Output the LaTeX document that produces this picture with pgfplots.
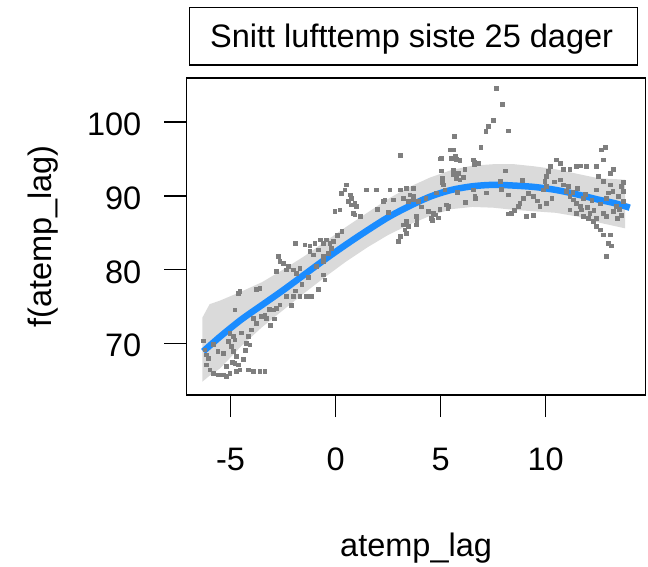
\documentclass[border=0pt]{standalone}
\usepackage{pgfplots}
\pgfplotsset{compat=1.18}
\usepackage{fontspec}
\setmainfont{Liberation Sans}
\definecolor{ptgray}{HTML}{7F7F7F}
\definecolor{bandgray}{HTML}{DADADA}
\definecolor{curveblue}{HTML}{1A8CFF}
\newcommand{\bigfont}{\fontsize{32.5}{39}\selectfont}
\begin{document}
\begin{tikzpicture}
\useasboundingbox (-186.5pt,-171pt) rectangle (461.5pt,395pt);
\begin{axis}[
  at={(0,0)}, anchor=south west,
  scale only axis, width=459.2pt, height=317pt,
  xmin=-7.10, xmax=14.76, ymin=62.98, ymax=106.0,
  xtick={-5,0,5,10}, ytick={70,80,90,100},
  xtick pos=bottom, ytick pos=left,
  tick align=outside, major tick length=22pt,
  axis line style={line width=1.5pt, black},
  every tick/.style={line width=1.5pt, black},
  /pgf/number format/assume math mode=true,
  ticklabel style={font=\bigfont, inner sep=0pt},
  xticklabel style={anchor=north, yshift=-31pt},
  yticklabel style={anchor=east, xshift=-23pt, yshift=-2.5pt},
  xlabel={atemp\_lag}, ylabel={f(atemp\_lag)},
  label style={font=\bigfont, inner sep=0pt},
  xlabel style={at={(axis description cs:0.5,0)}, anchor=base, yshift=-161.7pt},
  ylabel style={at={(axis description cs:0,0.5)}, anchor=center, rotate=0, yshift=143pt},
]
% confidence band (upper left to right, lower right to left)
\addplot[fill=bandgray, draw=none] coordinates {
(-6.34,73.5) (-6.0,75.3) (-5.5,75.8) (-4.5,77.0) (-3.5,78.3) (-2.5,80.0)
(-1.5,81.8) (-0.5,83.8) (0.5,85.8) (1.5,87.7) (2.5,89.6) (3.5,91.2)
(4.5,92.5) (5.5,93.5) (6.5,94.1) (7.5,94.3) (8.5,94.3) (9.5,94.0)
(10.5,93.6) (11.5,93.0) (12.5,92.4) (13.78,92.2)
(13.78,85.6) (12.5,86.4) (11.5,87.2) (10.5,87.7) (9.5,87.9) (8.5,88.1)
(7.5,88.4) (6.5,88.5) (5.5,88.2) (4.5,87.3) (3.5,86.1) (2.5,84.7)
(1.5,83.0) (0.5,81.1) (-0.5,79.0) (-1.5,76.8) (-2.5,74.5) (-3.5,72.2)
(-4.5,69.6) (-5.5,66.6) (-6.0,65.6) (-6.34,64.8)
};
% partial residuals
\addplot[ptgray, only marks, mark=square*, mark size=1.9pt, mark options={draw=ptgray, fill=ptgray, line width=0pt}] coordinates {
(7.67,104.61) (7.96,102.44) (7.51,100.22) (7.27,99.41) (7.16,98.73) (8.22,98.82)
(5.64,98.05) (6.92,96.56) (5.61,96.24) (5.45,96.24) (3.10,95.52) (5.05,95.11)
(5.53,95.11) (5.76,94.97) (5.92,94.79) (6.56,94.88) (6.80,94.43) (6.16,93.62)
(5.05,93.39) (8.07,93.39) (5.61,92.85) (5.76,92.39) (5.92,92.17) (7.83,91.94)
(6.56,90.81) (6.64,89.68) (8.22,90.13) (5.13,91.49) (5.21,90.81) (5.29,88.77)
(5.37,88.55) (4.97,88.19) (4.65,87.64) (4.57,86.96) (4.42,87.87) (3.07,90.81)
(3.38,91.04) (3.70,91.04) (3.54,90.13) (3.70,89.91) (3.22,89.68) (3.46,89.23)
(3.70,89.45) (3.94,89.23) (3.86,87.19) (3.86,86.06) (3.38,86.51) (3.22,86.06)
(3.46,85.83) (3.30,85.38) (3.38,84.93) (3.07,84.48) (2.99,83.80) (2.27,89.23)
(2.75,89.45) (0.53,91.49) (0.45,90.81) (0.29,90.36) (0.69,90.13) (0.76,89.68)
(0.61,89.23) (1.48,90.81) (1.96,90.81) (-0.03,87.87) (0.21,88.10) (0.76,88.77)
(0.92,89.00) (1.00,88.55) (0.84,87.64) (0.92,87.42) (-1.93,83.57) (-1.46,83.34)
(-1.22,83.21) (-0.98,83.57) (-0.74,84.02) (-0.58,83.57) (-0.43,84.02) (-0.27,83.57)
(-0.11,83.80) (-1.22,82.44) (-1.06,81.99) (-0.82,82.67) (-0.58,81.76) (-0.35,82.21)
(-0.58,81.08) (-2.73,81.76) (-2.65,81.08) (-2.49,80.86) (-2.25,80.40) (-2.33,79.95)
(-2.01,79.95) (-1.85,79.50) (-1.70,80.18) (-2.81,79.72) (-0.58,79.27) (-0.51,78.59)
(-0.82,77.33) (-4.55,77.01) (-4.63,76.78) (-3.60,77.46) (-3.76,77.33) (-2.33,76.33)
(-2.01,76.33) (-1.70,76.33) (-1.38,76.33) (-1.14,76.33) (-4.79,74.52) (-2.65,75.20)
(-2.81,74.75) (-2.97,74.52) (-3.13,74.61) (-3.36,73.84) (-3.52,73.62) (-3.28,73.39)
(-3.92,73.39) (-3.76,72.71) (-4.00,71.81) (-4.16,70.90) (-4.24,70.00) (-4.08,69.77)
(-5.03,71.35) (-4.87,70.90) (-4.79,70.45) (-4.95,69.54) (-5.11,70.22) (-4.87,68.86)
(-4.71,68.19) (-4.79,67.28) (-4.63,67.05) (-5.35,68.64) (-6.06,67.96) (-6.14,67.05)
(-5.98,66.38) (-5.82,65.92) (-5.58,65.70) (-5.35,65.70) (-5.19,65.47) (-5.03,65.92)
(-4.71,66.15) (-4.55,66.38) (-4.16,66.38) (-3.92,66.15) (-3.60,66.15) (-3.36,66.15)
(-6.22,69.09) (-6.14,68.41)
(10.53,94.88) (10.69,94.43) (10.21,93.98) (10.13,93.29) (10.05,92.62) (9.97,91.94)
(10.05,91.26) (9.89,90.81) (10.84,93.53) (11.16,93.62) (11.48,93.98) (11.64,94.07)
(11.96,93.98) (12.43,93.98) (12.67,96.24) (12.83,96.60) (12.75,94.88) (13.22,93.62)
(13.07,93.07) (12.51,92.62) (12.75,91.94) (13.07,91.49) (13.70,91.81) (13.62,91.26)
(13.70,90.58) (13.46,89.91) (13.70,89.23) (10.69,92.17) (10.84,91.49) (11.16,89.91)
(11.32,89.45) (11.48,89.00) (11.64,88.55) (11.16,88.10) (11.48,87.64) (11.80,87.19)
(12.03,86.96) (12.27,86.51) (12.43,85.83) (12.59,85.38) (12.75,84.70) (13.07,84.70)
(12.99,83.57) (13.15,83.21) (12.91,81.76) (10.05,89.00) (9.73,88.55) (9.42,89.91)
(9.18,90.36) (8.94,89.68) (8.78,89.00) (8.70,88.55) (9.10,87.19) (8.38,87.64)
(8.22,87.55) (12.75,87.64) (12.91,87.19) (13.22,87.87) (13.38,88.55) (11.71,88.10)
(12.11,87.64) (12.43,86.96)
(1.48,90.81) (2.59,90.81) (2.35,89.45) (3.87,86.5) (3.87,87.1) (4.6,86.7) (4.75,87.4)
(4.9,87.0) (5.35,88.3) (5.1,91.8) (5.1,92.4) (4.97,95.0) (5.7,95.3) (5.6,93.5)
(5.85,93.0) (6.1,92.5) (6.6,94.2) (6.6,94.6) (6.63,89.9) (7.9,90.9) (8.5,88.0)
(9.4,87.3) (11.9,90.2) (12.2,89.4) (12.6,88.9) (13.0,90.4) (13.4,86.9) (11.0,90.6)
(11.3,90.5) (11.5,91.0) (11.8,89.6) (12.0,88.4) (12.3,88.0) (12.9,89.6) (13.2,90.6)
(13.5,88.2) (13.6,87.3) (12.4,90.8) (11.1,91.3) (10.4,91.9) (10.3,89.7) (9.6,89.3)
(-4.9,67.4) (-5.2,66.9) (-4.4,67.8) (-4.3,69.0) (-5.6,68.9) (-5.8,69.8) (-6.3,70.3)
(-4.5,71.4) (-3.1,72.4) (-2.9,73.3) (-2.1,75.1) (-1.9,77.1) (-1.6,78.0) (-1.3,78.9)
(-0.9,80.4) (-0.2,82.9) (0.1,84.6) (0.3,85.2) (1.2,87.2) (2.0,88.2) (2.5,87.7)
(4.1,88.5) (4.3,89.7) (4.8,90.4) (5.8,90.5) (6.2,89.1) (7.2,90.4) (8.9,92.1)
};
% smooth fit
\addplot[curveblue, line width=6.5pt, smooth] coordinates {
(-6.30,68.9) (-5.5,70.9) (-4.5,73.2) (-3.5,75.2) (-2.5,77.2) (-1.5,79.3)
(-0.5,81.4) (0.5,83.4) (1.5,85.3) (2.5,87.1) (3.5,88.6) (4.5,89.9)
(5.5,90.8) (6.5,91.3) (7.5,91.5) (8.5,91.4) (9.5,91.2) (10.5,90.8)
(11.5,90.2) (12.5,89.5) (13.3,89.0) (14.0,88.4)
};
\end{axis}
\draw[line width=1.5pt] (2.8pt,330pt) rectangle (450.8pt,387.7pt);
\node[anchor=base west, inner sep=0pt, font=\bigfont] at (23.5pt,347.7pt) {Snitt lufttemp siste 25 dager};
\end{tikzpicture}
\end{document}
